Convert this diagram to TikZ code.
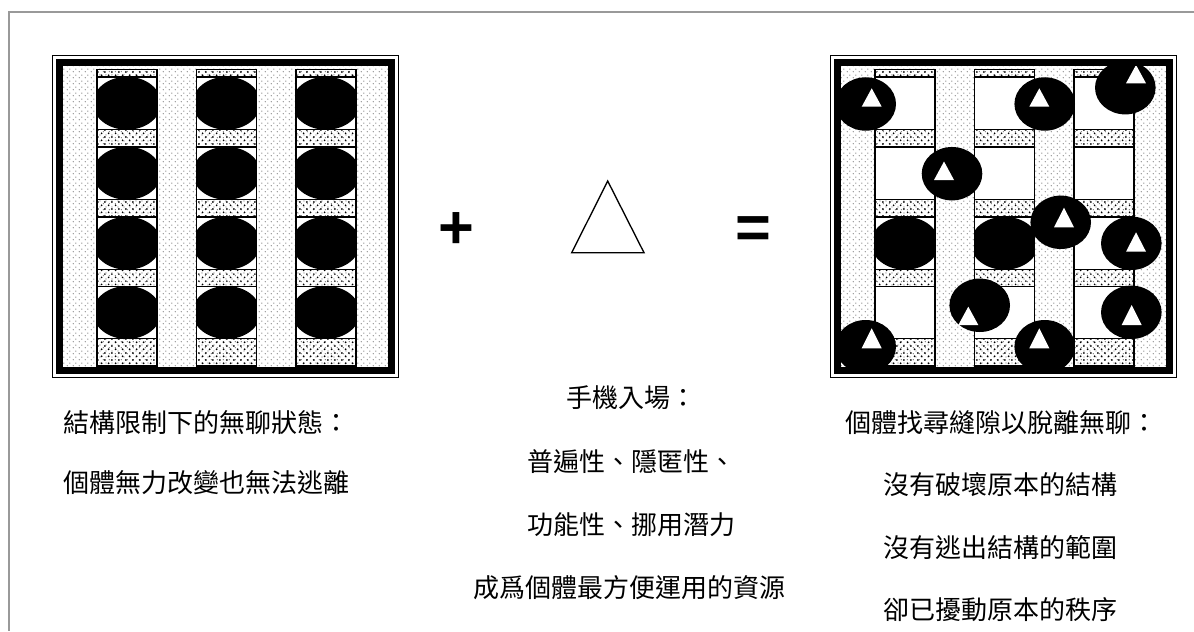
\documentclass[tikz,border=0pt]{standalone}
\usepackage{fontspec}
\newfontfamily\cjk{Noto Sans CJK TC}
\newfontfamily\opfont{Liberation Sans}
\usetikzlibrary{patterns}
\pgfdeclarepatternformonly{lightdots}{\pgfpointorigin}{\pgfpoint{4.5pt}{4.5pt}}{\pgfpoint{4.5pt}{4.5pt}}{%
  \pgfpathcircle{\pgfpoint{1.125pt}{1.125pt}}{0.55pt}%
  \pgfpathcircle{\pgfpoint{3.375pt}{3.375pt}}{0.55pt}%
  \pgfusepath{fill}}
\pgfdeclarepatternformonly{darkdots}{\pgfpointorigin}{\pgfpoint{5.4pt}{5.4pt}}{\pgfpoint{5.4pt}{5.4pt}}{%
  \pgfpathcircle{\pgfpoint{1.35pt}{1.35pt}}{0.8pt}%
  \pgfpathcircle{\pgfpoint{4.05pt}{4.05pt}}{0.8pt}%
  \pgfusepath{fill}}
\tikzset{
  frameline/.style={draw=black!40, line width=1.5pt},
  bgfill/.style={pattern=lightdots, pattern color=black!50},
  bandfill/.style={pattern=darkdots, pattern color=black},
  colline/.style={draw=black, line width=1.2pt},
  thinborder/.style={draw=black, line width=0.75pt},
  thickborder/.style={draw=black, line width=5.25pt},
  blob/.style={fill=black},
  tri/.style={fill=white},
  txt/.style={inner sep=0pt, font=\cjk\fontsize{19.5pt}{19.5pt}\selectfont},
  optxt/.style={inner sep=0pt, font=\opfont\bfseries\fontsize{46pt}{46pt}\selectfont},
  mobile/.style={draw=black, line width=1pt, line join=miter}
}
\begin{document}
\begin{tikzpicture}[x=0.75pt,y=-0.75pt]
\useasboundingbox (0,0) rectangle (1194,631);
\fill[white] (0,0) rectangle (1194,631);
\draw[frameline] (1194,12.5) -- (8.8,12.5) -- (8.8,631);

% ---------- left panel ----------
\begin{scope}[shift={(52,0)}]
  \fill[bgfill] (11,66) rectangle (336,367);
  \foreach \cx in {45,144.5,244} {
    \foreach \ya/\yb in {69.5/77,129.5/147,199.5/217,269.5/286.5,338.5/366} {
      \fill[white] (\cx,\ya) rectangle (\cx+60,\yb);
      \fill[bgfill] (\cx,\ya) rectangle (\cx+60,\yb);
      \fill[bandfill] (\cx,\ya) rectangle (\cx+60,\yb);
      \draw[colline] (\cx,\ya) rectangle (\cx+60,\yb);
    }
    \foreach \ya/\yb in {77/129.5,147/199.5,217/269.5,286.5/338.5} {
      \fill[white] (\cx,\ya) rectangle (\cx+60,\yb);
      \begin{scope}
        \clip (\cx,\ya) rectangle (\cx+60,\yb);
        \fill[blob] (\cx+30,{(\ya+\yb)/2}) ellipse [x radius=34, y radius=26.5];
      \end{scope}
      \draw[colline] (\cx,\ya) rectangle (\cx+60,\yb);
    }
  }
  \draw[thinborder] (0.5,55.5) rectangle (346.5,377.5);
  \draw[thickborder] (7.5,62.5) rectangle (339.5,370.5);
\end{scope}

% ---------- right panel ----------
\begin{scope}[shift={(830,0)}]
  \fill[bgfill] (11,66) rectangle (336,367);
  \foreach \cx in {45,144.5,244} {
    \foreach \ya/\yb in {69.5/77,129.5/147,199.5/217,269.5/286.5,338.5/366} {
      \fill[white] (\cx,\ya) rectangle (\cx+60,\yb);
      \fill[bgfill] (\cx,\ya) rectangle (\cx+60,\yb);
      \fill[bandfill] (\cx,\ya) rectangle (\cx+60,\yb);
      \draw[colline] (\cx,\ya) rectangle (\cx+60,\yb);
    }
    \foreach \ya/\yb in {77/129.5,147/199.5,217/269.5,286.5/338.5} {
      \fill[white] (\cx,\ya) rectangle (\cx+60,\yb);
      \draw[colline] (\cx,\ya) rectangle (\cx+60,\yb);
    }
  }
  \foreach \cx in {45,144.5} {
    \begin{scope}
      \clip (\cx,217) rectangle (\cx+60,269.5);
      \fill[blob] (\cx+30,243.25) ellipse [x radius=34, y radius=26.5];
    \end{scope}
    \draw[colline] (\cx,217) rectangle (\cx+60,269.5);
  }
\end{scope}
% individuals with phones
\foreach \ex/\ey/\ax/\ay/\by in {
  865.7/104/871.7/88.3/106.7,
  1044.7/104/1039.3/88.3/106.7,
  1125.3/87.7/1136/65/83.3,
  952/173.7/944/161.5/180,
  1060.7/222.3/1064/207.7/227.3,
  1131.3/243.3/1136/232.3/251.7,
  979.7/305.3/968.3/306.7/325,
  1131.3/312.3/1131.7/305/325,
  865.7/346.7/871.7/328.3/348.3,
  1044.7/346.7/1039.3/328.3/348.3} {
  \fill[blob] (\ex,\ey) ellipse [x radius=30.3, y radius=26.7];
  \fill[tri] (\ax,\ay) -- (\ax-10,\by) -- (\ax+10,\by) -- cycle;
}
\begin{scope}[shift={(830,0)}]
  \draw[thinborder] (0.5,55.5) rectangle (346.5,377.5);
  \draw[thickborder] (7.5,62.5) rectangle (339.5,370.5);
\end{scope}

% ---------- operators ----------
\node[optxt] (plus) at (456,231) {+};
\draw[mobile] (607.7,181) -- (644,252.7) -- (571.7,252.7) -- cycle;
\node[optxt] (eq) at (753,233) {=};

% ---------- captions ----------
\node[txt, anchor=west] (l1) at (63,423) {結構限制下的無聊狀態：};
\node[txt, anchor=west] (l2) at (63,483) {個體無力改變也無法逃離};

\node[txt] (m1) at (631,398) {手機入場：};
\node[txt] (m2) at (631,461.5) {普遍性、隱匿性、};
\node[txt] (m3) at (631,525) {功能性、挪用潛力};
\node[txt] (m4) at (629,588) {成爲個體最方便運用的資源};

\node[txt] (r1) at (1001,423) {個體找尋縫隙以脫離無聊：};
\node[txt] (r2) at (1000,485) {沒有破壞原本的結構};
\node[txt] (r3) at (1000,548) {沒有逃出結構的範圍};
\node[txt] (r4) at (1000,610) {卻已擾動原本的秩序};
\end{tikzpicture}
\end{document}
